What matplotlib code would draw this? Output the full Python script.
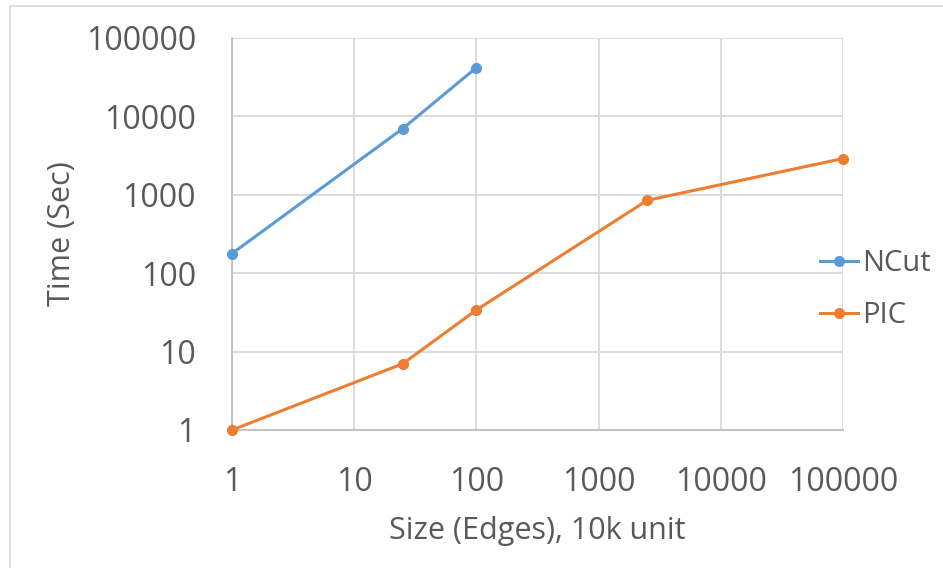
import matplotlib
matplotlib.use("Agg")
import matplotlib.pyplot as plt
from matplotlib.patches import Rectangle

# Data
size_ncut = [1, 25, 100]
time_ncut = [178, 7000, 42000]
size_pic = [1, 25, 100, 2500, 100000]
time_pic = [1, 7, 34, 850, 2900]
ticks = [1, 10, 100, 1000, 10000, 100000]
tick_labels = ["1", "10", "100", "1000", "10000", "100000"]

BLUE = "#5B9BD5"
ORANGE = "#ED7D31"
TEXT = "#595959"
GRID = "#D9D9D9"

plt.rcParams["font.family"] = ["Open Sans", "DejaVu Sans"]

fig = plt.figure(figsize=(9.43, 5.68), dpi=100)
ax = fig.add_axes([232 / 943, 1 - 430 / 568, 611 / 943, 392 / 568])

# light chart-area border
fig.patches.append(Rectangle((10 / 943, -0.02), 1.0, 1 - 6 / 568 + 0.02,
                             transform=fig.transFigure, fill=False,
                             edgecolor="#D9D9D9", linewidth=1.2))

ax.plot(size_ncut, time_ncut, color=BLUE, lw=2.2, marker="o", ms=7, label="NCut",
        clip_on=False, zorder=3)
ax.plot(size_pic, time_pic, color=ORANGE, lw=2.2, marker="o", ms=7, label="PIC",
        clip_on=False, zorder=3)

ax.set_xscale("log")
ax.set_yscale("log")
ax.set_xlim(1, 100000)
ax.set_ylim(1, 100000)
ax.set_xticks(ticks)
ax.set_xticklabels(tick_labels)
ax.set_yticks(ticks)
ax.set_yticklabels(tick_labels)
ax.minorticks_off()
ax.tick_params(length=0, labelsize=23, labelcolor=TEXT, pad=26)
ax.grid(True, color=GRID, lw=1.3)
ax.set_axisbelow(True)
for side in ["top", "right"]:
    ax.spines[side].set_visible(False)
for side in ["left", "bottom"]:
    ax.spines[side].set_color("#BFBFBF")
    ax.spines[side].set_linewidth(1.3)

ax.set_xlabel("Size (Edges), 10k unit", fontsize=22, color=TEXT, labelpad=12)
ax.set_ylabel("Time (Sec)", fontsize=22, color=TEXT, labelpad=6)

leg = ax.legend(loc="center left", bbox_to_anchor=(0.962, 0.358), frameon=False,
                fontsize=21, handlelength=1.3, handletextpad=0.15, labelspacing=0.8,
                borderaxespad=0, borderpad=0)
for t in leg.get_texts():
    t.set_color(TEXT)

fig.savefig("out.png", dpi=100)
